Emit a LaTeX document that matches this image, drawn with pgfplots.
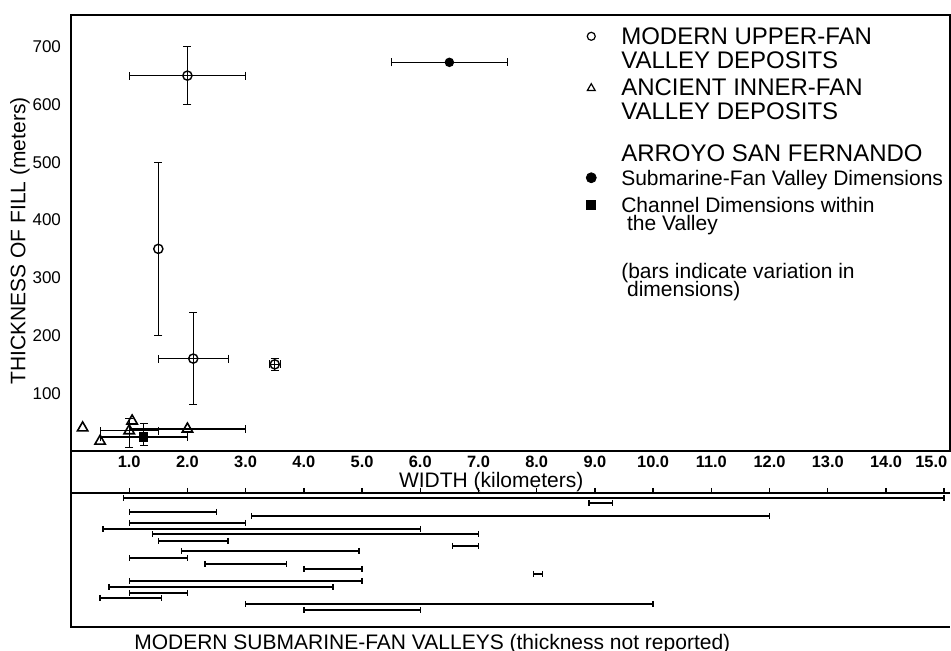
\documentclass[border=0pt]{standalone}
\usepackage{fontspec}
\setmainfont{Liberation Sans}
\usepackage{pgfplots}
\pgfplotsset{compat=1.18}
% #1 font, #2 height above first baseline, #3 depth below first baseline, #4 lines
\newcommand{\ent}[4]{#1\rule{0pt}{#2}\rule[-#3]{0pt}{0pt}\begin{tabular}[t]{@{}l@{}}#4\end{tabular}}
\begin{document}
\begin{tikzpicture}
\path[use as bounding box] (0,0) rectangle (475.5pt,325.5pt);
\begin{axis}[name=upper, at={(35.5pt,100pt)}, anchor=south west, scale only axis,
  width=439.5pt, height=218pt,
  xmin=0, xmax=15.1, ymin=0, ymax=755,
  xtick={1,...,15}, ytick={100,200,...,700},
  xticklabels={1.0,2.0,3.0,4.0,5.0,6.0,7.0,8.0,9.0,10.0,11.0,12.0,13.0,14.0,\makebox[3pt][r]{15.0}},
  yticklabels={100,200,300,400,500,600,700},
  major tick length=0pt,
  axis line style={line width=1pt},
  xticklabel style={font=\fontsize{8.2}{9}\selectfont\bfseries, inner sep=1pt, yshift=-1.5pt},
  yticklabel style={font=\fontsize{8.5}{10}\selectfont, xshift=-1.5pt},
  xlabel={WIDTH (kilometers)},
  xlabel style={at={(axis description cs:0.478,-0.071)}, anchor=center, inner sep=0pt, font=\fontsize{10.5}{12}\selectfont},
  ylabel={THICKNESS OF FILL (meters)},
  ylabel style={at={(axis description cs:-0.058,0.482)}, anchor=center, font=\fontsize{10.5}{12}\selectfont},
  legend style={at={(rel axis cs:0.572,0.9736)}, anchor=north west, draw=none, fill=none,
    row sep=0pt, column sep=12.5pt, inner sep=0pt,
    nodes={inner sep=0pt, text depth=, text height=},
    cells={anchor=base west},
    font=\fontsize{12}{11.25}\selectfont},
]
% Modern upper-fan valley deposits (x and y variation)
\addplot[forget plot, only marks, mark=o, mark size=2.3pt, line width=0.7pt,
  error bars/.cd, x dir=both, x explicit, y dir=both, y explicit,
  error bar style={line width=0.7pt}, error mark options={rotate=90, mark size=2pt}]
  table[x=x, y=y, x error plus=xp, x error minus=xm, y error plus=yp, y error minus=ym] {
x y xp xm yp ym
2.0 650 1.0 1.0 50 50
2.1 160 0.6 0.6 80 80
3.5 150 0.1 0.1 10 10
};
% Modern upper-fan (y variation only)
\addplot[forget plot, only marks, mark=o, mark size=2.3pt, line width=0.7pt,
  error bars/.cd, y dir=both, y explicit,
  error bar style={line width=0.7pt}, error mark options={rotate=90, mark size=2pt}]
  table[x=x, y=y, y error plus=yp, y error minus=ym] {
x y yp ym
1.5 350 150 150
};
% Ancient inner-fan, no bars
\addplot[forget plot, only marks, mark=triangle, mark size=3pt, line width=0.8pt]
  table[x=x, y=y] {
x y
0.2 40
0.5 17
1.05 52
};
% Ancient inner-fan, x and y bars
\addplot[forget plot, only marks, mark=triangle, mark size=3pt, line width=0.8pt,
  error bars/.cd, x dir=both, x explicit, y dir=both, y explicit,
  error bar style={line width=0.7pt}, error mark options={rotate=90, mark size=2pt}]
  table[x=x, y=y, x error plus=xp, x error minus=xm, y error plus=yp, y error minus=ym] {
x y xp xm yp ym
1.0 35 0.5 0.5 22 28
};
% Ancient inner-fan, x bars
\addplot[forget plot, only marks, mark=triangle, mark size=3pt, line width=0.8pt,
  error bars/.cd, x dir=both, x explicit,
  error bar style={line width=0.7pt}, error mark options={rotate=90, mark size=2pt}]
  table[x=x, y=y, x error plus=xp, x error minus=xm] {
x y xp xm
2.0 38 1.0 1.0
};
% Arroyo San Fernando: channel dimensions within the valley
\addplot[forget plot, only marks, mark=square*, mark size=2pt, line width=0.7pt,
  error bars/.cd, x dir=both, x explicit, y dir=both, y explicit,
  error bar style={line width=0.7pt}, error mark options={rotate=90, mark size=2pt}]
  table[x=x, y=y, x error plus=xp, x error minus=xm, y error plus=yp, y error minus=ym] {
x y xp xm yp ym
1.25 24 0.75 0.75 24 14
};
% Arroyo San Fernando: submarine-fan valley dimensions
\addplot[forget plot, only marks, mark=*, mark size=2pt, line width=0.7pt,
  error bars/.cd, x dir=both, x explicit,
  error bar style={line width=0.7pt}, error mark options={rotate=90, mark size=2pt}]
  table[x=x, y=y, x error plus=xp, x error minus=xm] {
x y xp xm
6.5 673 1.0 1.0
};
% legend
\addlegendimage{only marks, mark=o, mark size=2pt, line width=0.6pt, yshift=4.3pt}
\addlegendentry{\ent{}{9pt}{16.5pt}{MODERN UPPER-FAN\\VALLEY DEPOSITS}}
\addlegendimage{only marks, mark=triangle, mark size=2.3pt, line width=0.6pt, yshift=3.8pt}
\addlegendentry{\ent{}{9pt}{24pt}{ANCIENT INNER-FAN\\VALLEY DEPOSITS}}
\addlegendimage{empty legend}
\addlegendentry{\ent{}{9pt}{2.75pt}{ARROYO SAN FERNANDO}}
\addlegendimage{only marks, mark=*, mark size=2.5pt, yshift=3.8pt}
\addlegendentry{\ent{\fontsize{10.5}{11.75}\selectfont}{8.35pt}{4.5pt}{Submarine-Fan Valley Dimensions}}
\addlegendimage{only marks, mark=square*, mark size=2.2pt, yshift=3.8pt}
\addlegendentry{\ent{\fontsize{10.5}{9}\selectfont}{9pt}{24pt}{Channel Dimensions within\\[-1.3pt]\ the Valley}}
\addlegendimage{empty legend}
\addlegendentry{\ent{\fontsize{10.5}{9}\selectfont}{9pt}{10pt}{(bars indicate variation in\\[-1.2pt]\ dimensions)}}
\end{axis}
\begin{axis}[name=lower, at={(35.5pt,12pt)}, anchor=south west, scale only axis,
  width=439.5pt, height=67pt,
  xmin=0, xmax=15.1, ymin=0, ymax=134,
  axis line style={draw=none},
  xtick={1,...,15}, xticklabels={}, ytick=\empty,
  xtick pos=right, tick align=outside, major tick length=2.5pt,
  tick style={line width=0.7pt, black},
  xlabel={MODERN SUBMARINE-FAN VALLEYS (thickness not reported)},
  xlabel style={at={(axis description cs:0.411,-0.126)}, anchor=center, font=\fontsize{10.5}{12}\selectfont},
  unbounded coords=jump,
]
\addplot[black, line width=0.7pt, mark=|, mark size=1.6pt] table[x=x, y=y] {
x y
0.9 129
15.0 129
nan nan
8.9 124
9.3 124
nan nan
1.0 115
2.5 115
nan nan
3.1 111
12.0 111
nan nan
1.0 104
3.0 104
nan nan
0.55 98
6.0 98
nan nan
1.4 93
7.0 93
nan nan
1.5 86
2.7 86
nan nan
6.55 81
7.0 81
nan nan
1.9 76
4.95 76
nan nan
1.0 69
2.0 69
nan nan
2.3 63
3.7 63
nan nan
4.0 58
5.0 58
nan nan
7.95 53
8.1 53
nan nan
1.0 46
5.0 46
nan nan
0.65 40
4.5 40
nan nan
1.0 34
2.0 34
nan nan
0.5 29
1.55 29
nan nan
3.0 23
10.0 23
nan nan
4.0 17
6.0 17
};
\end{axis}
\draw[line width=1pt] (lower.north east) -- (lower.north west) -- (lower.south west) -- (lower.south east);
\draw[line width=1pt] (upper.south west) -- (lower.north west);
\end{tikzpicture}
\end{document}
